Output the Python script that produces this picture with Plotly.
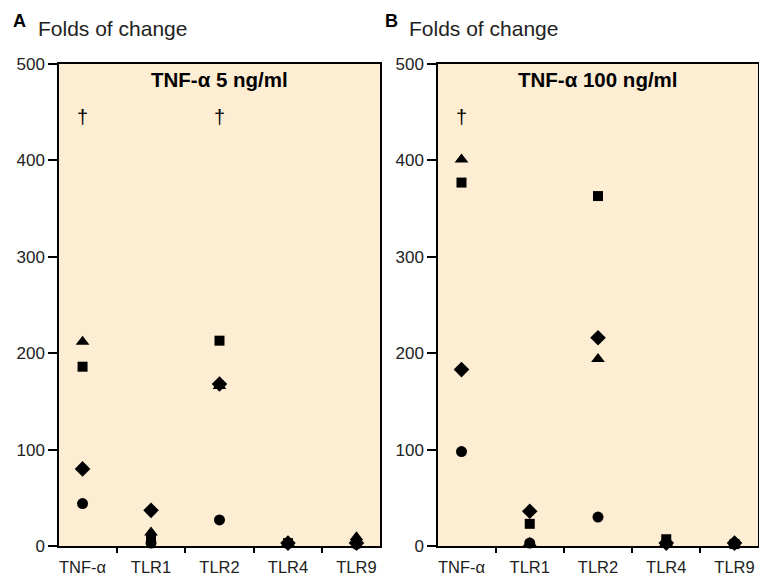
import plotly.graph_objects as go

categories = ["TNF-α", "TLR1", "TLR2", "TLR4", "TLR9"]

# Panel A: TNF-α 5 ng/ml
a_circle = [44, 3, 27, 3, 2]
a_diamond = [80, 37, 168, 3, 3]
a_square = [186, 7, 213, 3, 3]
a_triangle = [212, 14, 166, 3, 9]

# Panel B: TNF-α 100 ng/ml
b_circle = [98, 3, 30, 3, 3]
b_diamond = [183, 36, 216, 3, 3]
b_square = [377, 23, 363, 7, 2]
b_triangle = [401, 3, 194, 3, 2]

panel_titles = ["TNF-α 5 ng/ml", "TNF-α 100 ng/ml"]
panel_letters = ["A", "B"]
dagger_a = ["TNF-α", "TLR2"]
dagger_b = ["TNF-α"]
dagger_value = 445

y_ticks = [0, 100, 200, 300, 400, 500]

FONT = "Liberation Sans, Arial, sans-serif"
BG = "#FDEDD3"
W, H = 759, 579

fig = go.Figure()

series = [
    ("circle", "circle", 11),
    ("diamond", "diamond", 12),
    ("square", "square", 10),
    ("triangle", "triangle-up", 12),
]
panelA = {"circle": a_circle, "diamond": a_diamond, "square": a_square, "triangle": a_triangle}
panelB = {"circle": b_circle, "diamond": b_diamond, "square": b_square, "triangle": b_triangle}

for xa, ya, data in [("x", "y", panelA), ("x2", "y2", panelB)]:
    for name, sym, size in series:
        fig.add_trace(go.Scatter(
            x=categories, y=data[name], mode="markers", name=name,
            marker=dict(symbol=sym, size=size, color="black", line=dict(width=0)),
            xaxis=xa, yaxis=ya, showlegend=False, cliponaxis=False,
        ))

ydom = [1 - 546 / H, 1 - 64 / H]
axis_common = dict(showline=True, linecolor="black", linewidth=1.5, mirror=True,
                   showgrid=False, zeroline=False, ticks="outside", tickcolor="black",
                   tickwidth=1.5, automargin=False)
xfont = dict(family=FONT, size=16.5, color="#222")
yfont = dict(family=FONT, size=17, color="#222")

fig.update_layout(
    template="none",
    width=W, height=H, autosize=False,
    margin=dict(l=0, r=0, t=0, b=0, pad=0),
    paper_bgcolor="white", plot_bgcolor=BG,
    font=dict(family=FONT, color="#222"),
    xaxis=dict(domain=[59 / W, 380 / W], type="category", tickson="boundaries",
               ticklen=5, ticklabelstandoff=5, anchor="y", tickfont=xfont, **axis_common),
    yaxis=dict(domain=ydom, range=[0, 500], tickvals=y_ticks, ticklen=9,
               anchor="x", tickfont=yfont, **axis_common),
    xaxis2=dict(domain=[438 / W, 758 / W], type="category", tickson="boundaries",
                ticklen=5, ticklabelstandoff=5, anchor="y2", tickfont=xfont, **axis_common),
    yaxis2=dict(domain=ydom, range=[0, 500], tickvals=y_ticks, ticklen=9,
                anchor="x2", tickfont=yfont, **axis_common),
)

annotations = []
for i, (xr, yr) in enumerate([("x", "y"), ("x2", "y2")]):
    annotations.append(dict(xref=f"{xr} domain", yref="paper", x=0.5, y=1 - 80 / H,
                            text=f"<b>{panel_titles[i]}</b>", showarrow=False,
                            font=dict(family=FONT, size=20.5, color="black"),
                            xanchor="center", yanchor="middle"))
for c in dagger_a:
    annotations.append(dict(xref="x", yref="y", x=c, y=dagger_value, text="†", showarrow=False,
                            font=dict(family=FONT, size=20, color="black")))
for c in dagger_b:
    annotations.append(dict(xref="x2", yref="y2", x=c, y=dagger_value, text="†", showarrow=False,
                            font=dict(family=FONT, size=20, color="black")))

for letter, lx, tx in [(panel_letters[0], 11, 36), (panel_letters[1], 383, 407)]:
    annotations.append(dict(xref="paper", yref="paper", x=lx / W, y=1 - 21 / H,
                            text=f"<b>{letter}</b>", showarrow=False, xanchor="left", yanchor="middle",
                            font=dict(family=FONT, size=18, color="black")))
    annotations.append(dict(xref="paper", yref="paper", x=tx / W, y=1 - 28 / H,
                            text="Folds of change", showarrow=False, xanchor="left", yanchor="middle",
                            font=dict(family=FONT, size=21, color="#222")))

fig.update_layout(annotations=annotations)
fig.write_html("out.html", config={"displayModeBar": False},
               post_script="document.body.style.margin='0';document.body.style.overflow='hidden';")
